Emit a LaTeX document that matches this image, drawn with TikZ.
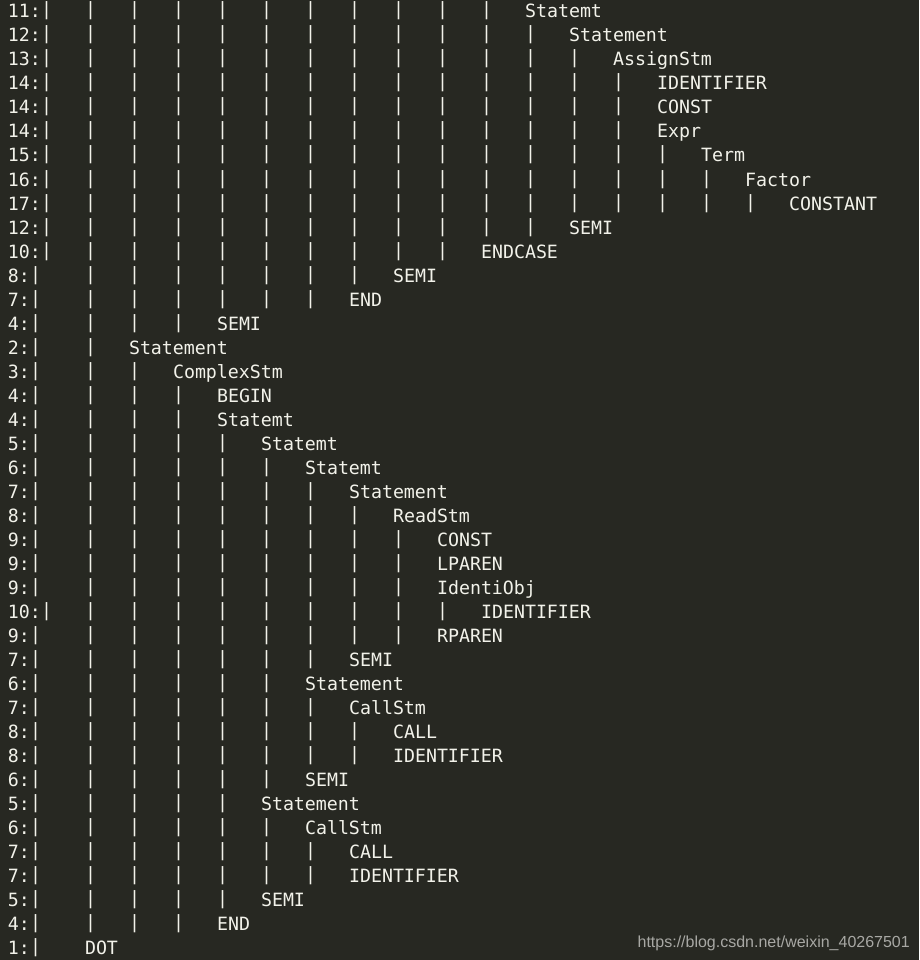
\documentclass[tikz,border=0pt]{standalone}
\usepackage{fontspec}
\newfontfamily\termfont{DejaVu Sans Mono}
\newfontfamily\wmfont{Liberation Sans}
\definecolor{bgc}{HTML}{272822}
\definecolor{fgc}{HTML}{F2F2EA}
\definecolor{wmc}{HTML}{A8A8A4}
\begin{document}
\begin{tikzpicture}[x=1pt,y=-1pt,
  term/.style={anchor=base west,inner sep=0pt,outer sep=0pt,text=fgc,font=\termfont\fontsize{18.27}{24}\selectfont},
  wm/.style={anchor=base east,inner sep=0pt,text=wmc,font=\wmfont\fontsize{16}{18}\selectfont}]
\fill[bgc] (0,0) rectangle (919,960);
\useasboundingbox (0,0) rectangle (919,960);
\foreach \lv/\tx [count=\r from 0] in {
  11/Statemt, 12/Statement, 13/AssignStm, 14/IDENTIFIER, 14/CONST, 14/Expr,
  15/Term, 16/Factor, 17/CONSTANT, 12/SEMI, 10/ENDCASE, 8/SEMI, 7/END, 4/SEMI,
  2/Statement, 3/ComplexStm, 4/BEGIN, 4/Statemt, 5/Statemt, 6/Statemt,
  7/Statement, 8/ReadStm, 9/CONST, 9/LPAREN, 9/IdentiObj, 10/IDENTIFIER,
  9/RPAREN, 7/SEMI, 6/Statement, 7/CallStm, 8/CALL, 8/IDENTIFIER, 6/SEMI,
  5/Statement, 6/CallStm, 7/CALL, 7/IDENTIFIER, 5/SEMI, 4/END, 1/DOT}{
  \pgfmathsetmacro{\yb}{18+24*\r}
  \pgfmathsetmacro{\fc}{\lv>9 ? 3 : 2}
  \node[term] (n\r) at (8,\yb) {\lv:};
  \node[term] (b\r-0) at (8+11*\fc,\yb-2) {|};
  \ifnum\lv>1
    \pgfmathtruncatemacro{\last}{\lv-1}
    \foreach \k in {1,...,\last}{
      \node[term] (b\r-\k) at (8+44*\k+33,\yb-2) {|};
    }
  \fi
  \node[term] (t\r) at (8+44*\lv+33,\yb) {\tx};
}
\node[wm] (wmark) at (910,947) {https://blog.csdn.net/weixin\_40267501};
\end{tikzpicture}
\end{document}
